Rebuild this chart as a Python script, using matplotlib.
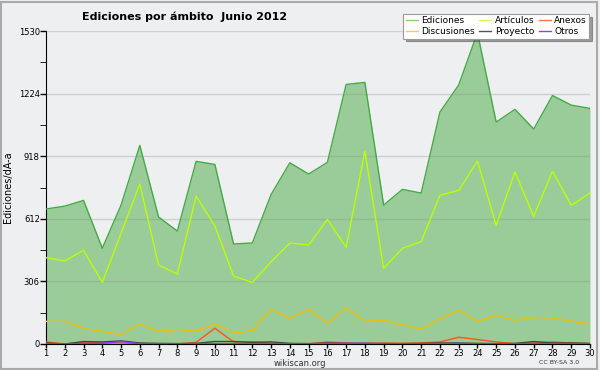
import matplotlib.pyplot as plt
import numpy as np

days = list(range(1, 31))

ediciones = [660, 674, 702, 468, 679, 971, 621, 552, 893, 878, 489, 494, 731, 886, 831,
             888, 1269, 1279, 679, 756, 738, 1134, 1266, 1522, 1085, 1147, 1051, 1215, 1168, 1152]
articulos = [422, 406, 458, 301, 541, 782, 386, 342, 723, 578, 332, 301, 402, 494, 484,
             609, 473, 943, 370, 468, 500, 727, 751, 894, 580, 841, 624, 845, 678, 738]
discusiones = [111, 111, 77, 62, 47, 98, 62, 72, 62, 99, 52, 67, 170, 126, 170,
               101, 176, 111, 116, 94, 72, 124, 165, 111, 140, 116, 130, 127, 111, 98]
anexos = [10, 0, 8, 5, 5, 0, 0, 0, 8, 77, 10, 10, 5, 0, 0,
          10, 5, 3, 5, 3, 5, 10, 33, 22, 10, 2, 5, 10, 5, 2]
proyecto = [5, 0, 12, 10, 15, 5, 3, 2, 3, 12, 12, 8, 10, 3, 2,
            5, 3, 3, 2, 2, 3, 5, 5, 3, 2, 3, 12, 5, 5, 3]
otros = [1, 0, 2, 3, 12, 1, 1, 0, 1, 1, 1, 1, 1, 1, 1,
         2, 3, 3, 1, 1, 1, 1, 1, 1, 1, 1, 1, 1, 1, 1]

yticks = [0, 306, 612, 918, 1224, 1530]

bg = '#eeeff1'
fig = plt.figure(figsize=(6, 3.7), dpi=100, facecolor=bg)
fig.patches.append(plt.Rectangle((0.002, 0.004), 0.993, 0.99, transform=fig.transFigure,
                                 fill=False, edgecolor='#aaaaaa', lw=1.5))
ax = fig.add_axes([0.0767, 0.0703, 0.9066, 0.8457], facecolor=bg)

x = np.array(days)
ax.fill_between(x, 0, ediciones, color='#99cc99', lw=0, zorder=1)
ax.plot(x, ediciones, color='#44aa44', lw=1, zorder=3)
ax.plot(x, articulos, color='#bbff00', lw=1, zorder=3)
ax.plot(x, discusiones, color='#f0c000', lw=1, zorder=3)
ax.plot(x, anexos, color='#ff5511', lw=1, zorder=3)
ax.plot(x, proyecto, color='#444444', lw=1, zorder=3)
ax.plot(x, otros, color='#8833ff', lw=1, zorder=3)

ax.set_xlim(1, 30)
ax.set_ylim(0, 1530)
ax.set_xticks(days)
ax.set_yticks(yticks)
ax.set_yticks([153, 459, 765, 1071, 1377], minor=True)
ax.tick_params(axis='both', labelsize=6, length=4, width=1, pad=0.5)
ax.tick_params(axis='x', length=3)
ax.tick_params(axis='y', which='minor', length=4)
ax.grid(axis='y', color='#888888', alpha=0.3, lw=1, zorder=2)
ax.set_axisbelow(False)
for s in ['top', 'right']:
    ax.spines[s].set_visible(False)
ax.set_ylabel('Ediciones/dÃ-a', fontsize=7, labelpad=4)

fig.text(0.307, 0.955, 'Ediciones por ámbito  Junio 2012', ha='center', va='center',
         fontsize=8, fontweight='bold')
fig.text(0.5, 0.017, 'wikiscan.org', ha='center', va='center', fontsize=6, color='#333333')
fig.text(0.965, 0.02, 'CC BY-SA 3.0', ha='right', va='center', fontsize=4.5, color='#333333')

names = ['Ediciones', 'Discusiones', 'Artículos', 'Proyecto', 'Anexos', 'Otros']
cols = ['#88cc88', '#ffcc44', '#ccff55', '#555555', '#ff7744', '#8844ee']
handles = [plt.Line2D([], [], color=c, lw=1) for c in cols]
leg = fig.legend(handles, names, ncol=3, loc='upper right', bbox_to_anchor=(0.99, 0.975),
                 fontsize=6.5, frameon=True, fancybox=False, shadow=True, handlelength=1.3,
                 handletextpad=0.4, columnspacing=0.5, labelspacing=0.15, borderpad=0.3)
leg.get_frame().set_edgecolor('#999999')
leg.get_frame().set_linewidth(0.8)

plt.savefig('out.png', dpi=100, facecolor=bg)
